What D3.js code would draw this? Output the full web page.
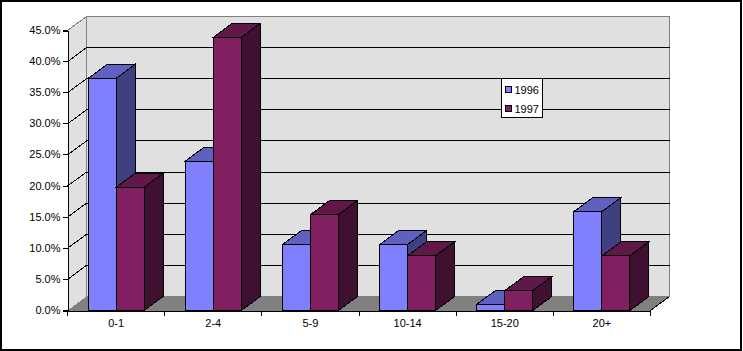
<!DOCTYPE html>
<html>
<head>
<meta charset="utf-8">
<script src="https://cdnjs.cloudflare.com/ajax/libs/d3/7.8.5/d3.min.js"></script>
<style>
  html, body { margin: 0; padding: 0; background: #fff; }
  svg { display: block; }
  svg * { shape-rendering: crispEdges; }
  text { font-family: "Liberation Sans", Arial, sans-serif; font-size: 11px; fill: #000; }
</style>
</head>
<body>
<div id="chart"></div>
<script>
// Values
const categories = ["0-1", "2-4", "5-9", "10-14", "15-20", "20+"];
const years = ["1996", "1997"];
const values1996 = [37.3, 24.0, 10.6, 10.6, 1.0, 15.9];
const values1997 = [19.8, 43.9, 15.4, 8.8, 3.2, 8.8];
const yTicks = [0, 5, 10, 15, 20, 25, 30, 35, 40, 45];

const svg = d3.select("#chart").append("svg")
    .attr("width", 743)
    .attr("height", 351);

// Outer frame of the chart
svg.append("rect")
    .attr("x", 1).attr("y", 1)
    .attr("width", 740).attr("height", 349)
    .attr("fill", "#fff")
    .attr("stroke", "#000")
    .attr("stroke-width", 2);

// Front plane of the plot and depth offset of the 3D box
const plot = { left: 67.5, right: 650.5, top: 30.5, bottom: 310.5 };
const depth = { x: 19, y: -14 };

const y = d3.scaleLinear().domain([0, 45]).range([plot.bottom, plot.top]);
const x = d3.scaleBand().domain(categories).range([plot.left, plot.right]);
const xYear = d3.scaleBand().domain(years).range([0, x.bandwidth()]).paddingOuter(0.735).paddingInner(0);

const poly = (pts) => pts.map(p => p.join(",")).join(" ");

// Left wall
svg.append("polygon")
    .attr("points", poly([[plot.left, plot.top], [plot.left + depth.x, plot.top + depth.y],
                          [plot.left + depth.x, plot.bottom + depth.y], [plot.left, plot.bottom]]))
    .attr("fill", "#e0e0e0");

// Back wall
svg.append("rect")
    .attr("x", plot.left + depth.x)
    .attr("y", plot.top + depth.y)
    .attr("width", plot.right - plot.left)
    .attr("height", plot.bottom - plot.top)
    .attr("fill", "#e0e0e0")
    .attr("stroke", "#808080")
    .attr("stroke-width", 1);

// Floor
svg.append("polygon")
    .attr("points", poly([[plot.left, plot.bottom], [plot.left + depth.x, plot.bottom + depth.y],
                          [plot.right + depth.x, plot.bottom + depth.y], [plot.right, plot.bottom]]))
    .attr("fill", "#808080");

// Top edge of the left wall
svg.append("line")
    .attr("x1", plot.left).attr("y1", plot.top)
    .attr("x2", plot.left + depth.x).attr("y2", plot.top + depth.y)
    .attr("stroke", "#808080");

// Gridlines run along the left wall and then across the back wall
svg.append("g")
    .selectAll("polyline")
    .data(yTicks.filter(d => d > 0 && d < 45))
    .join("polyline")
    .attr("points", d => poly([[plot.left, y(d)], [plot.left + depth.x, y(d) + depth.y],
                               [plot.right + depth.x, y(d) + depth.y]]))
    .attr("fill", "none")
    .attr("stroke", "#000");

// Floor edge at the right
svg.append("line")
    .attr("x1", plot.right).attr("y1", plot.bottom)
    .attr("x2", plot.right + depth.x).attr("y2", plot.bottom + depth.y)
    .attr("stroke", "#000");

// Bars
const seriesList = [
    { year: "1996", values: values1996, front: "#8080ff", top: "#6060c0", side: "#404080" },
    { year: "1997", values: values1997, front: "#802060", top: "#601848", side: "#401030" }
];

categories.forEach(function (cat, i) {
    seriesList.forEach(function (s) {
        const x0 = x(cat) + xYear(s.year);
        const x1 = x0 + xYear.bandwidth();
        const yTop = y(s.values[i]);
        const g = svg.append("g").attr("stroke", "#000").attr("stroke-width", 1);

        g.append("polygon")
            .attr("points", poly([[x1, yTop], [x1 + depth.x, yTop + depth.y],
                                  [x1 + depth.x, plot.bottom + depth.y], [x1, plot.bottom]]))
            .attr("fill", s.side);
        g.append("polygon")
            .attr("points", poly([[x0, yTop], [x0 + depth.x, yTop + depth.y],
                                  [x1 + depth.x, yTop + depth.y], [x1, yTop]]))
            .attr("fill", s.top);
        g.append("rect")
            .attr("x", x0).attr("y", yTop)
            .attr("width", x1 - x0).attr("height", plot.bottom - yTop)
            .attr("fill", s.front);
    });
});

// Axes
const yAxis = d3.axisLeft(y)
    .tickValues(yTicks)
    .tickSize(5)
    .tickPadding(2)
    .tickFormat(d => d.toFixed(1) + "%");
svg.append("g")
    .attr("transform", `translate(${plot.left},0)`)
    .call(yAxis)
    .call(g => g.selectAll("path, line").attr("stroke", "#000"))
    .call(g => g.selectAll(".tick").attr("transform", d => `translate(0,${y(d)})`));

const xAxis = d3.axisBottom(x).tickSize(0).tickPadding(9);
svg.append("g")
    .attr("transform", `translate(0,${plot.bottom})`)
    .call(xAxis)
    .call(g => g.select(".domain").attr("stroke", "#000"))
    .call(g => g.selectAll(".tick").attr("transform", d => `translate(${x(d) + x.bandwidth() / 2},0)`));

// Category separators on the x axis
svg.append("g")
    .selectAll("line")
    .data(categories.concat("end"))
    .join("line")
    .attr("x1", (d, i) => plot.left + i * x.step())
    .attr("x2", (d, i) => plot.left + i * x.step())
    .attr("y1", plot.bottom)
    .attr("y2", plot.bottom + 5)
    .attr("stroke", "#000");

svg.selectAll("text").style("font-size", "11px").style("font-family", "'Liberation Sans', Arial, sans-serif");

// Legend
const legend = svg.append("g").attr("transform", "translate(501.5,78.5)");
legend.append("rect")
    .attr("width", 41).attr("height", 39)
    .attr("fill", "#fff").attr("stroke", "#000");

const legendItem = legend.selectAll("g")
    .data(seriesList)
    .join("g")
    .attr("transform", (d, i) => `translate(4,${8 + i * 19})`);
legendItem.append("rect")
    .attr("width", 6).attr("height", 6)
    .attr("fill", d => d.front)
    .attr("stroke", "#000");
legendItem.append("text")
    .attr("x", 9)
    .attr("y", 7)
    .style("font-size", "11px")
    .text(d => d.year);
</script>
</body>
</html>
